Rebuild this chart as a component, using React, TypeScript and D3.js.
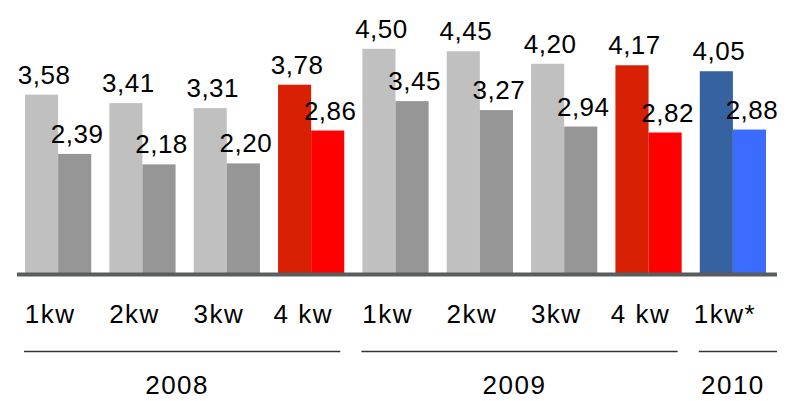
import React from "react";
import * as d3 from "d3";

const categories = ["1kw", "2kw", "3kw", "4 kw", "1kw", "2kw", "3kw", "4 kw", "1kw*"];
const seriesA = [3.58, 3.41, 3.31, 3.78, 4.5, 4.45, 4.2, 4.17, 4.05];
const seriesB = [2.39, 2.18, 2.2, 2.86, 3.45, 3.27, 2.94, 2.82, 2.88];
const colorsA = ["#c0c0c0", "#c0c0c0", "#c0c0c0", "#d82005", "#c0c0c0", "#c0c0c0", "#c0c0c0", "#d82005", "#36639f"];
const colorsB = ["#969696", "#969696", "#969696", "#ff0000", "#969696", "#969696", "#969696", "#ff0000", "#3c6cff"];
const years = ["2008", "2009", "2010"];
const yearSpans = [4, 4, 1];

const W = 787;
const H = 401;
const baseY = 273;
const FONT = "'Liberation Sans', Arial, sans-serif";

const locale = d3.formatLocale({ decimal: ",", thousands: ".", grouping: [3], currency: ["", "€"] });
const fmt = locale.format(".2f");

export default function App() {
  const x = d3
    .scaleBand<number>()
    .domain(categories.map((_, i) => i))
    .range([25, 766])
    .paddingInner(0.215)
    .paddingOuter(0);
  const sub = d3.scaleBand<number>().domain([0, 1]).range([0, x.bandwidth()]);
  const y = d3.scaleLinear().domain([0, 5.48]).range([baseY, 0]);

  let start = 0;
  const groups = years.map((yr, gi) => {
    const first = start;
    const last = start + yearSpans[gi] - 1;
    start += yearSpans[gi];
    const x0 = (x(first) as number) - 1;
    const x1 = gi === years.length - 1 ? 777 : (x(last) as number) + x.bandwidth() - 4;
    return { yr, x0, x1 };
  });

  return (
    <svg
      width={W}
      height={H}
      style={{ position: "absolute", left: 0, top: 0, background: "#fff" }}
      fontFamily={FONT}
    >
      {categories.map((c, i) => {
        const gx = x(i) as number;
        const bars = [
          { v: seriesA[i], col: colorsA[i], bx: gx + (sub(0) as number) },
          { v: seriesB[i], col: colorsB[i], bx: gx + (sub(1) as number) },
        ];
        return (
          <g key={i}>
            {bars.map((b, k) => (
              <g key={k}>
                <rect x={b.bx} y={y(b.v)} width={sub.bandwidth()} height={baseY - y(b.v)} fill={b.col} />
                <text
                  x={b.bx + sub.bandwidth() / 2 + 2.5}
                  y={y(b.v) - 11}
                  textAnchor="middle"
                  fontSize={26}
                  letterSpacing={0.5}
                  fill="#000"
                >
                  {fmt(b.v)}
                </text>
              </g>
            ))}
            <text
              x={gx + x.bandwidth() * 0.38}
              y={323}
              textAnchor="middle"
              fontSize={26}
              letterSpacing={1.5}
              fill="#000"
            >
              {c}
            </text>
          </g>
        );
      })}
      <rect x={17} y={272.5} width={760} height={4} fill="#585d5d" />
      {groups.map((g) => (
        <g key={g.yr}>
          <line x1={g.x0} x2={g.x1} y1={351.5} y2={351.5} stroke="#333" strokeWidth={1.5} />
          <text
            x={(g.x0 + g.x1) / 2 - 5}
            y={394}
            textAnchor="middle"
            fontSize={26}
            letterSpacing={1.5}
            fill="#000"
          >
            {g.yr}
          </text>
        </g>
      ))}
    </svg>
  );
}
